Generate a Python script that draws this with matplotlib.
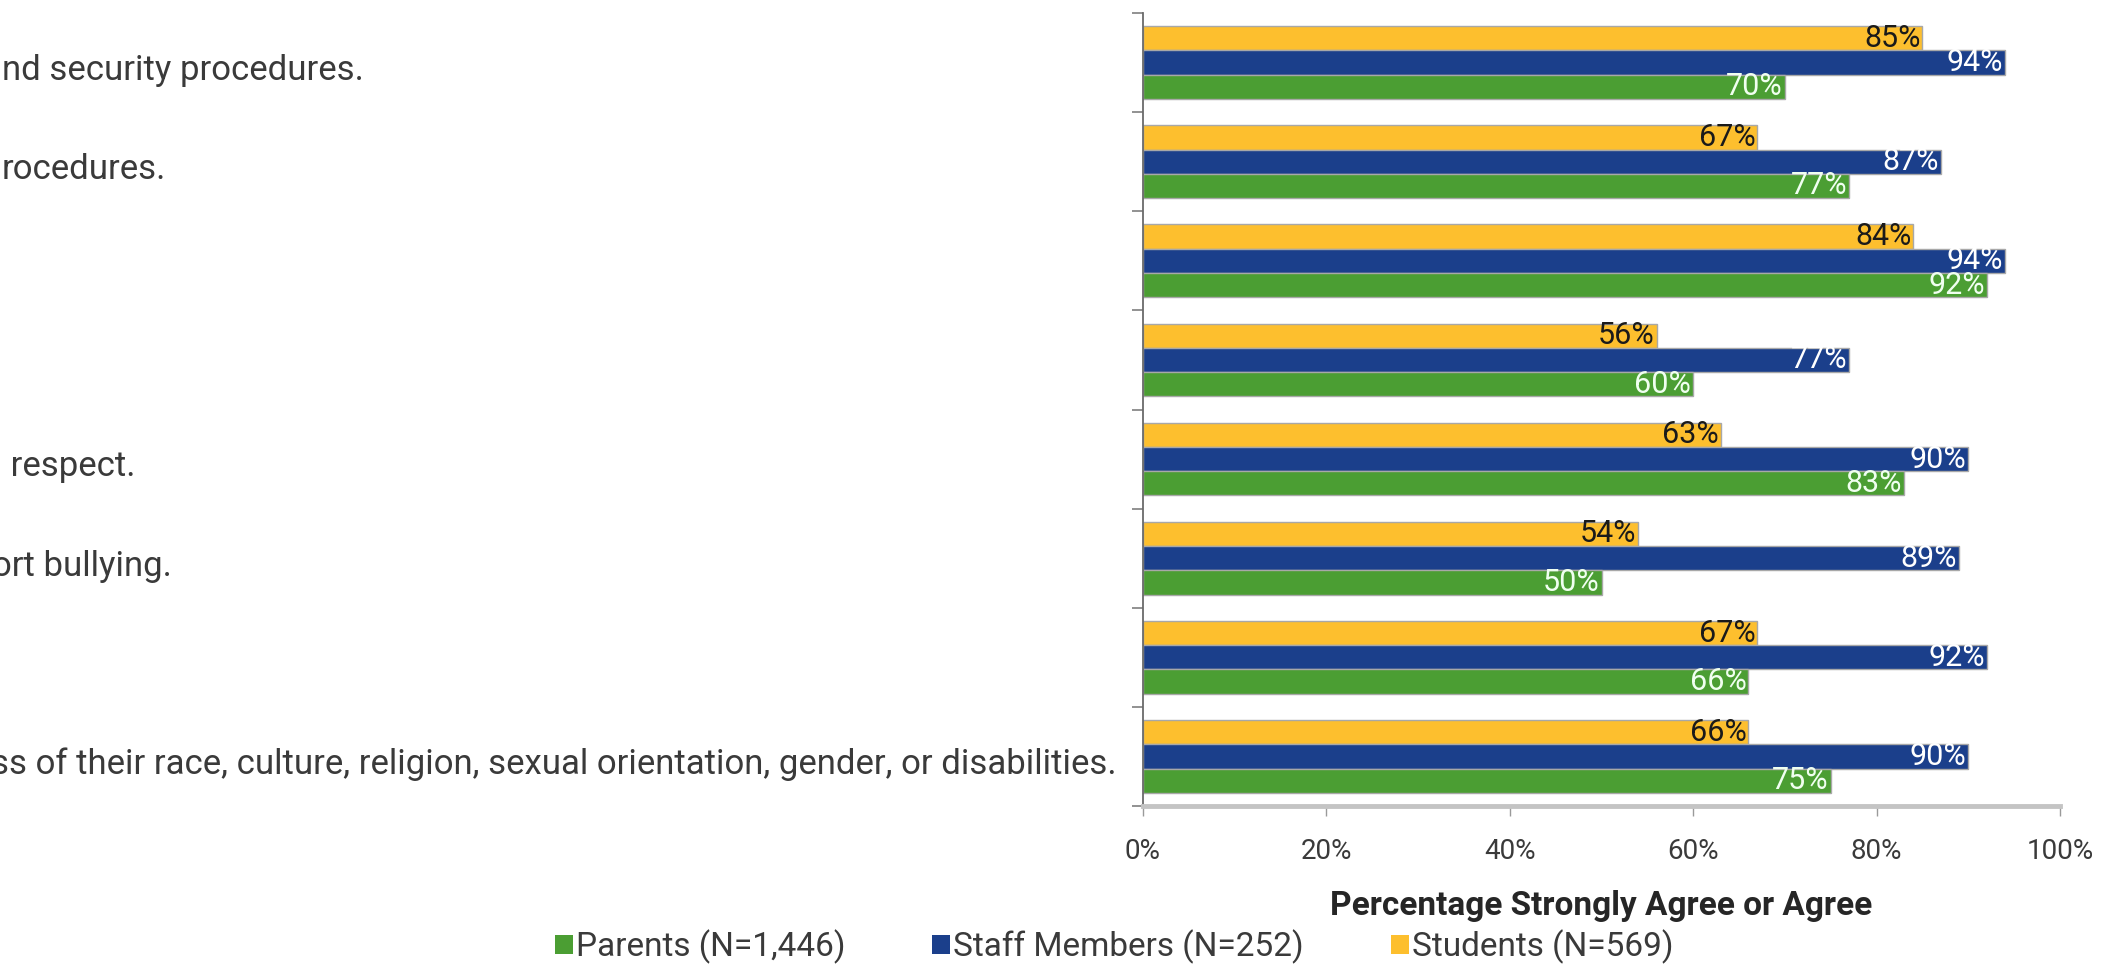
import matplotlib.pyplot as plt
import matplotlib.transforms as mtransforms
from matplotlib.patches import Patch
import numpy as np

plt.rcParams['font.family'] = ['Roboto', 'DejaVu Sans']

# category labels (cropped on the left in the original slide)
categories = [
    "nd security procedures.",
    "rocedures.",
    "",
    "",
    " respect.",
    "ort bullying.",
    "",
    "ss of their race, culture, religion, sexual orientation, gender, or disabilities.",
]
students = [85, 67, 84, 56, 63, 54, 67, 66]
staff = [94, 87, 94, 77, 90, 89, 92, 90]
parents = [70, 77, 92, 60, 83, 50, 66, 75]

series_names = ["Parents (N=1,446)", "Staff Members (N=252)", "Students (N=569)"]
xticks = [0, 20, 40, 60, 80, 100]

GREEN = "#4b9e33"
BLUE = "#1b3f8b"
YELLOW = "#fdbf2e"
TEXT = "#3a3a3a"

W, H = 2103, 967
fig = plt.figure(figsize=(W / 100, H / 100), dpi=100)
ax = fig.add_axes([1143 / W, 1 - 806 / H, (2060 - 1143) / W, (806 - 13) / H])

y = np.arange(len(categories))
h = 0.245
off = 0.245

bars_s = ax.barh(y - off, students, height=h, color=YELLOW, edgecolor="#a8a8a8", linewidth=1.0)
bars_t = ax.barh(y, staff, height=h, color=BLUE, edgecolor="#a8a8a8", linewidth=1.0)
bars_p = ax.barh(y + off, parents, height=h, color=GREEN, edgecolor="#a8a8a8", linewidth=1.0)

def label_bars(bars, vals, color):
    for b, v in zip(bars, vals):
        ax.text(v - 0.2, b.get_y() + b.get_height() / 2, f"{v}%", ha="right", va="center",
                color=color, fontsize=22)

label_bars(bars_s, students, "#1a1a1a")
label_bars(bars_t, staff, "white")
label_bars(bars_p, parents, "#f0fff0")

ax.set_xlim(0, 100)
ax.set_ylim(len(categories) - 0.5, -0.5)
ax.set_xticks(xticks)
ax.set_xticklabels([f"{t}%" for t in xticks], fontsize=20, color=TEXT)
ax.tick_params(axis="x", direction="out", length=7, width=1, color="#9a9a9a", pad=16)
ax.set_yticks([])
ax.set_yticks(np.arange(-0.5, len(categories)), minor=True)
ax.tick_params(axis="y", which="minor", direction="out", length=8, width=1.2, color="#7f7f7f")

for s in ["top", "right"]:
    ax.spines[s].set_visible(False)
ax.spines["bottom"].set_color("#c4c4c4")
ax.spines["bottom"].set_linewidth(3.5)
ax.spines["left"].set_color("#6a6a6a")
ax.spines["left"].set_linewidth(1.3)

# cropped category labels on the left
trans = mtransforms.blended_transform_factory(fig.transFigure, ax.transData)
x_px = [2, 2, 0, 0, 2, -8, 0, -9]
for yi, (lab, xp) in enumerate(zip(categories, x_px)):
    if lab:
        ax.text(xp / W, yi + 0.08, lab, transform=trans, ha="left", va="center",
                fontsize=25, color=TEXT, clip_on=False)

fig.text(1601 / W, 1 - 906 / H, "Percentage Strongly Agree or Agree", ha="center", va="center",
         fontsize=24, fontweight="bold", color="#262626")

handles = [Patch(facecolor=GREEN), Patch(facecolor=BLUE), Patch(facecolor=YELLOW)]
fig.legend(handles, series_names, loc="center", bbox_to_anchor=(1114 / W, 1 - 947 / H), ncol=3,
           frameon=False, fontsize=24, labelcolor=TEXT, handlelength=0.54, handleheight=0.51,
           handletextpad=0.1, columnspacing=2.6, borderpad=0)

fig.savefig("out.png", dpi=100)
